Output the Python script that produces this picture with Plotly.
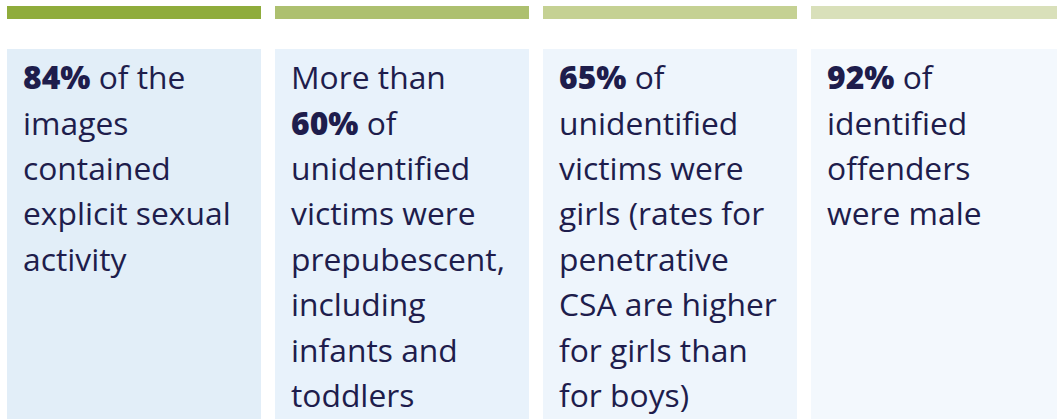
import plotly.graph_objects as go

W, H = 1057, 419

stats = ["84%", "60%", "65%", "92%"]
panel_lines = [
    ["{s} of the", "images", "contained", "explicit sexual", "activity"],
    ["More than", "{s} of", "unidentified", "victims were", "prepubescent,",
     "including", "infants and", "toddlers"],
    ["{s} of", "unidentified", "victims were", "girls (rates for", "penetrative",
     "CSA are higher", "for girls than", "for boys)"],
    ["{s} of", "identified", "offenders", "were male"],
]
bar_colors = ["#8FAC3B", "#ADC06F", "#C5D193", "#D9E0BA"]
box_colors = ["#E2EEF8", "#E8F2FB", "#EEF5FC", "#F3F8FD"]
text_color = "#1E1D4C"

panel_x0 = [7, 275, 543, 811]
panel_w = 254
line_y0 = 76.7
line_dy = 45.4
font_size = 31.8

fig = go.Figure()
shapes = []
annotations = []
for i in range(4):
    x0 = panel_x0[i]
    x1 = x0 + panel_w
    shapes.append(dict(type="rect", xref="x", yref="y", x0=x0, x1=x1, y0=6, y1=19,
                       fillcolor=bar_colors[i], line=dict(width=0), layer="below"))
    shapes.append(dict(type="rect", xref="x", yref="y", x0=x0, x1=x1, y0=49, y1=H + 5,
                       fillcolor=box_colors[i], line=dict(width=0), layer="below"))
    bold = '<span style="font-weight:800">' + stats[i] + '</span>'
    for j, ln in enumerate(panel_lines[i]):
        annotations.append(dict(x=x0 + 14, y=line_y0 + j * line_dy, xref="x", yref="y",
                                text=ln.format(s=bold), showarrow=False,
                                xanchor="left", yanchor="middle",
                                font=dict(family="Open Sans", size=font_size, color=text_color)))

fig.add_trace(go.Scatter(x=[0, W], y=[0, H], mode="markers", marker=dict(opacity=0),
                         hoverinfo="skip", showlegend=False))
fig.update_layout(
    width=W, height=H, margin=dict(l=0, r=0, t=0, b=0),
    paper_bgcolor="white", plot_bgcolor="white",
    xaxis=dict(range=[0, W], visible=False, fixedrange=True),
    yaxis=dict(range=[H, 0], visible=False, fixedrange=True),
    shapes=shapes, annotations=annotations, showlegend=False,
)
fig.write_html("out.html", config={"displayModeBar": False},
               post_script="document.body.style.margin='0';document.body.style.overflow='hidden';")
